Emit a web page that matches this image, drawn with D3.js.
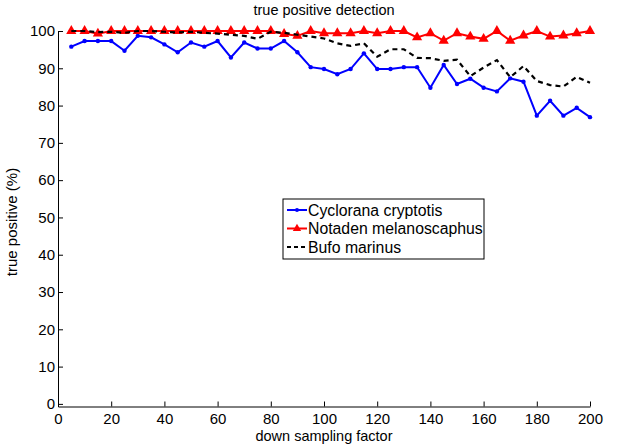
<!DOCTYPE html>
<html>
<head>
<meta charset="utf-8">
<script src="https://cdn.jsdelivr.net/npm/d3@7"></script>
<style>
  body { margin: 0; background: #fff; }
  text { font-family: "Liberation Sans", Arial, sans-serif; fill: #000; }
</style>
</head>
<body>
<div id="chart"></div>
<script>
const factors = d3.range(5, 201, 5);
const cyclorana = [95.8, 97.3, 97.3, 97.3, 94.7, 98.7, 98.3, 96.4, 94.3, 96.9,
  95.8, 97.3, 92.9, 96.9, 95.3, 95.3, 97.3, 94.3, 90.3, 89.8,
  88.4, 89.8, 94.0, 89.8, 89.8, 90.3, 90.3, 84.8, 90.9, 85.8,
  87.2, 84.8, 83.8, 87.3, 86.4, 77.3, 81.3, 77.3, 79.4, 76.9];
const notaden = [100, 100, 99.3, 100, 100, 100, 100, 100, 100, 100,
  100, 100, 100, 100, 100, 100, 99.2, 98.7, 100, 99.4,
  99.4, 99.4, 100, 99.4, 100, 100, 98.3, 99.4, 97.4, 99.4,
  98.5, 97.9, 100, 97.4, 98.8, 100, 98.5, 98.8, 99.4, 100];
const bufo = [100, 100, 99.7, 99.8, 99.5, 100, 100, 99.8, 99.6, 99.8,
  99.5, 99.3, 99.0, 98.7, 97.9, 99.8, 99.5, 99.0, 98.5, 98.0,
  96.7, 96.0, 96.7, 93.1, 95.1, 95.1, 92.8, 92.7, 92.0, 92.3,
  87.9, 90.2, 92.2, 87.6, 90.6, 86.6, 85.5, 85.1, 87.7, 86.1];
const xTicks = d3.range(0, 201, 20);
const yTicks = d3.range(0, 101, 10);
const seriesNames = ['Cyclorana cryptotis', 'Notaden melanoscaphus', 'Bufo marinus'];

const width = 627, height = 446;
const x = d3.scaleLinear().domain([0, 200]).range([58, 590]);
const y = d3.scaleLinear().domain([-0.7, 100]).range([406.5, 31]);

const svg = d3.select('#chart').append('svg')
  .attr('width', width)
  .attr('height', height);

// axes (matlab style: ticks inward, no box)
const xAxis = svg.append('g')
  .attr('transform', `translate(0,${y(-0.7)})`)
  .call(d3.axisBottom(x).tickValues(xTicks).tickSizeInner(-5).tickSizeOuter(0).tickPadding(7));
const yAxis = svg.append('g')
  .attr('transform', `translate(${x(0)},0)`)
  .call(d3.axisLeft(y).tickValues(yTicks).tickSizeInner(-5).tickSizeOuter(0).tickPadding(3));
[xAxis, yAxis].forEach(g => {
  g.select('.domain').attr('stroke', '#000').attr('stroke-width', 1);
  g.selectAll('.tick line').attr('stroke', '#000');
  g.selectAll('text').attr('font-size', 15).attr('font-family', '"Liberation Sans", Arial, sans-serif');
});

const line = d3.line().x((d, i) => x(factors[i])).y(d => y(d));

svg.append('path').datum(cyclorana)
  .attr('fill', 'none').attr('stroke', '#0000ff').attr('stroke-width', 2)
  .attr('d', line);
svg.selectAll('.dot').data(cyclorana).enter().append('circle')
  .attr('cx', (d, i) => x(factors[i])).attr('cy', d => y(d))
  .attr('r', 2.2).attr('fill', '#0000ff');

svg.append('path').datum(notaden)
  .attr('fill', 'none').attr('stroke', '#ff0000').attr('stroke-width', 2)
  .attr('d', line);
const tri = d3.symbol().type(d3.symbolTriangle).size(45);
svg.selectAll('.tri').data(notaden).enter().append('path')
  .attr('transform', (d, i) => `translate(${x(factors[i])},${y(d)})`)
  .attr('d', tri).attr('fill', '#ff0000');

svg.append('path').datum(bufo)
  .attr('fill', 'none').attr('stroke', '#000').attr('stroke-width', 2.2)
  .attr('stroke-dasharray', '5,4')
  .attr('d', line);

// labels
svg.append('text').attr('x', 324).attr('y', 15).attr('text-anchor', 'middle')
  .attr('font-size', 14.5).text('true positive detection');
svg.append('text').attr('x', 324).attr('y', 441).attr('text-anchor', 'middle')
  .attr('font-size', 14.5).text('down sampling factor');
svg.append('text').attr('transform', 'translate(17,222) rotate(-90)')
  .attr('text-anchor', 'middle').attr('font-size', 15).text('true positive (%)');

// legend
const legend = svg.append('g').attr('transform', 'translate(283,199)');
legend.append('rect').attr('width', 201).attr('height', 60)
  .attr('fill', '#fff').attr('stroke', '#000').attr('stroke-width', 1);
const rows = legend.selectAll('.row').data(seriesNames).enter().append('g')
  .attr('transform', (d, i) => `translate(0,${11 + i * 18.5})`);
rows.append('line').attr('x1', 4).attr('x2', 24)
  .attr('stroke', (d, i) => ['#0000ff', '#ff0000', '#000'][i])
  .attr('stroke-width', 2)
  .attr('stroke-dasharray', (d, i) => i === 2 ? '4,3' : null);
rows.filter((d, i) => i === 0).append('circle').attr('cx', 14).attr('r', 2).attr('fill', '#0000ff');
rows.filter((d, i) => i === 1).append('path').attr('transform', 'translate(14,0)')
  .attr('d', d3.symbol().type(d3.symbolTriangle).size(30)).attr('fill', '#ff0000');
rows.append('text').attr('x', 25).attr('dy', '0.35em').attr('font-size', 15.8).text(d => d);
</script>
</body>
</html>
